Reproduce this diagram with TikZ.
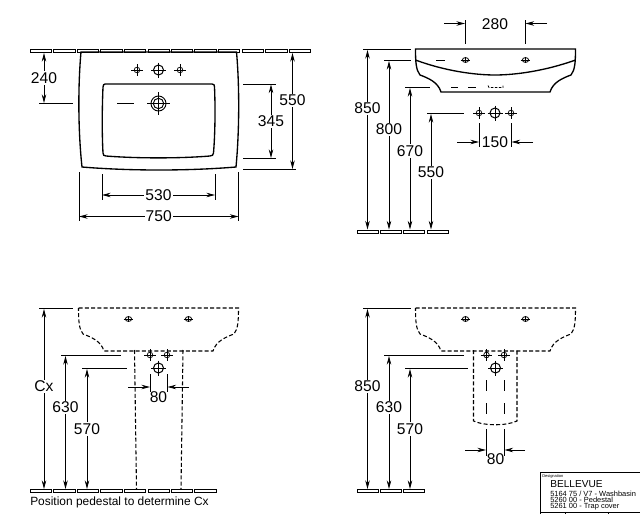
\documentclass[tikz,border=0pt]{standalone}
\usepackage{fontspec}
\setmainfont{Liberation Sans}
\usepackage{tikz}
\usetikzlibrary{arrows.meta}
\tikzset{
  dimline/.style = {{Stealth[length=6.5pt,width=3.4pt]}-{Stealth[length=6.5pt,width=3.4pt]}, line width=0.6pt},% two arrow heads
  dimstop/.style = {-{Stealth[length=6.5pt,width=3.4pt]}, line width=0.6pt},% one arrow head
  extline/.style = {line width=0.6pt},
  outline/.style = {line width=1pt},
  hidden/.style = {line width=0.8pt, dash pattern=on 3pt off 1.7pt},
  tile/.style = {line width=0.6pt, fill=white},
  dimtxt/.style = {fill=white, inner sep=0.8pt, font=\fontsize{11.7}{12}\selectfont},
  tap/.pic = {
    \draw[line width=0.55pt] (0,0) circle [radius=2.8];
    \draw[line width=0.55pt] (-5.8,0) -- (5.8,0) (0,-5.8) -- (0,5.8);
  },
  bigtap/.pic = {
    \draw[line width=0.75pt] (0,0) circle [radius=5];
    \draw[line width=0.55pt] (-7.5,0) -- (7.5,0) (0,-7.5) -- (0,7.5);
  },
  lens/.pic = {
    \draw[line width=0.6pt] (0,0) ellipse [x radius=3.2, y radius=2.4];
    \draw[line width=0.6pt] (-4.8,0) -- (4.8,0) (0,-3.2) -- (0,3.2);
  }
}
\newcommand{\basinfront}[1]{% front view of the basin
    \draw[#1] (415.5,49) -- (575.5,49) .. controls (575.5,62) and (575,70) .. (571,75)
        .. controls (563,78) and (553,82) .. (550,92) -- (441,92)
        .. controls (438,82) and (428,78) .. (420,75)
        .. controls (416,70) and (415.5,62) .. (415.5,49) -- cycle;
}
\begin{document}
\begin{tikzpicture}[x=0.75pt,y=-0.75pt]
    \useasboundingbox (0,0) rectangle (640,514);
    % plan view, wall tiles
    \foreach \tx in {30,53.5,77,100.5,124,148,171,194.5,218,242,265.5,289}
        \draw[tile] (\tx,49) rectangle ++(21.5,3);
    \draw[outline] (81,52) -- (236.5,52) .. controls (239.5,85) and (239.5,130) .. (236,167)
        .. controls (188,171) and (130,171) .. (82,167)
        .. controls (78,130) and (78,85) .. (81,52) -- cycle;
    \draw[outline] (105,84) -- (212,84) .. controls (214,84) and (214.5,85) .. (214.5,87)
        .. controls (215.5,110) and (215,135) .. (213.5,153) .. controls (213.5,155) and (212,156) .. (210,156)
        .. controls (180,158.5) and (137,158.5) .. (106,156) .. controls (104,156) and (103,155) .. (103,153)
        .. controls (102,135) and (102,110) .. (103,87) .. controls (103,85) and (104,84) .. (105,84) -- cycle;
    \pic at (137,70) {tap};
    \pic at (158.5,70) {bigtap};
    \pic at (180,70) {tap};
    \draw[line width=0.7pt] (158.5,103.5) circle [radius=7.5] circle [radius=5.2];
    \draw[extline] (147,103.5) -- (170,103.5) (158.5,92) -- (158.5,115) (117,103.5) -- (134,103.5);
    \draw[extline] (39,103.5) -- (73,103.5) (243,84) -- (276,84) (243,158.5) -- (276,158.5)
        (243,169.5) -- (296,169.5) (102,174) -- (102,200) (215,174) -- (215,200)
        (79,172) -- (79,221) (238.5,172) -- (238.5,221);
    \draw[dimline] (44,53) -- (44,103) node[dimtxt, midway] (lblA) {240};
    \draw[dimline] (292.5,53) -- (292.5,169) node[dimtxt, pos=0.41] (lblB) {550};
    \draw[dimline] (271,84.5) -- (271,158) node[dimtxt, pos=0.5] (lblC) {345};
    \draw[dimline] (102,195) -- (215,195) node[dimtxt, midway] (lblD) {530};
    \draw[dimline] (79,216.5) -- (238.5,216.5) node[dimtxt, midway] (lblE) {750};
    % side view
    \foreach \tx in {357,380,403,427}
        \draw[tile] (\tx,230) rectangle ++(21.5,3);
    \basinfront{outline}
    \draw[outline] (415.5,60) .. controls (445,71) and (475,75) .. (495,75)
        .. controls (515,75) and (545,71) .. (575.5,60);
    \pic at (465.5,60) {lens};
    \pic at (525.5,60) {lens};
    \draw[extline] (436,60) -- (445,60) (451,87.5) -- (458,87.5) (468,87.5) -- (476,87.5);
    \draw[extline, dash pattern=on 2pt off 1pt] (488,85.5) -- (489,87.5) -- (503,87.5) -- (503,85.5);
    \pic at (479,113) {tap};
    \pic at (495,113) {bigtap};
    \pic at (511,113) {tap};
    \draw[extline] (363,49.5) -- (411,49.5) (384,60) -- (411,60) (405,87.5) -- (430,87.5) (427,113) -- (464,113)
        (465.5,20) -- (465.5,44) (525,20) -- (525,44) (479.5,123) -- (479.5,147) (511,123) -- (511,147);
    \draw[dimline] (367.5,50) -- (367.5,229.5) node[dimtxt, pos=0.325] (lblF) {850};
    \draw[dimline] (389,61) -- (389,229.5) node[dimtxt, pos=0.405] (lblG) {800};
    \draw[dimline] (410,88) -- (410,229.5) node[dimtxt, pos=0.445] (lblH) {670};
    \draw[dimline] (431,114) -- (431,229.5) node[dimtxt, pos=0.505] (lblI) {550};
    \draw[dimstop] (444,23.5) -- (465,23.5);
    \draw[dimstop] (547,23.5) -- (525.5,23.5);
    \node[dimtxt] (lblJ) at (495,24) {280};
    \draw[dimstop] (457,142) -- (479,142);
    \draw[dimstop] (533,142) -- (511.5,142);
    \node[dimtxt] (lblK) at (495,142.5) {150};
    % pedestal, left
    \begin{scope}[shift={(-337,259)}]
        \basinfront{hidden}
        \pic at (465.5,60) {lens};
        \pic at (525.5,60) {lens};
    \end{scope}
    \foreach \tx in {30,53.5,77,100.5,124,148,171,194.5}
        \draw[tile] (\tx,489.5) rectangle ++(21.5,3);
    \draw[hidden] (134.5,350) -- (136.5,489) (183,350) -- (181,489);
    \pic at (150,355) {tap};
    \pic at (167,355) {tap};
    \pic at (158.5,368) {bigtap};
    \draw[extline] (39,308) -- (73,308) (61,355.5) -- (121,355.5) (82,368) -- (127,368)
        (150.5,374) -- (150.5,392) (167,374) -- (167,392);
    \draw[dimline] (44,309) -- (44,489) node[dimtxt, pos=0.43] (lblL) {Cx};
    \draw[dimline] (65.5,356) -- (65.5,489) node[dimtxt, pos=0.385] (lblM) {630};
    \draw[dimline] (87,369) -- (87,489) node[dimtxt, pos=0.5] (lblN) {570};
    \draw[dimstop] (128,387) -- (150,387);
    \draw[dimstop] (189,387) -- (167.5,387);
    \node[dimtxt, fill=none] (lblO) at (158.5,397) {80};
    \node[anchor=west, inner sep=0pt, font=\fontsize{8.95}{10}\selectfont] (note) at (30,502.5) {Position pedestal to determine Cx};
    % pedestal, right
    \basinfront{hidden, yshift=-194.25pt}
    \pic at (465.5,319) {lens};
    \pic at (525.5,319) {lens};
    \foreach \tx in {357,380,403}
        \draw[tile] (\tx,489.5) rectangle ++(21.5,3);
    \draw[hidden] (473.5,350) -- (473.5,421) .. controls (485,426) and (506,426) .. (517,421) -- (517,350);
    \pic at (486.5,355) {tap};
    \pic at (504,355) {tap};
    \pic at (495.5,368) {bigtap};
    \draw[extline] (486.5,380) -- (486.5,391) (504,380) -- (504,391) (486.5,403) -- (486.5,414) (504,403) -- (504,414);
    \draw[extline] (363,308) -- (411,308) (384,355.5) -- (464,355.5) (405,368) -- (468,368)
        (486.5,429) -- (486.5,456) (504,429) -- (504,456);
    \draw[dimline] (367.5,309) -- (367.5,489) node[dimtxt, pos=0.43] (lblP) {850};
    \draw[dimline] (389,356) -- (389,489) node[dimtxt, pos=0.385] (lblQ) {630};
    \draw[dimline] (410,369) -- (410,489) node[dimtxt, pos=0.5] (lblR) {570};
    \draw[dimstop] (465,450) -- (486,450);
    \draw[dimstop] (525,450) -- (504.5,450);
    \node[dimtxt, fill=none] (lblS) at (495.5,459) {80};
    % title block
    \draw[line width=0.7pt] (640,472) -- (540,472) -- (540,514) (540,512.5) -- (640,512.5)
        (565,512.5) -- (565,514) (608,512.5) -- (608,514);
    \node[anchor=west, inner sep=0pt, font=\fontsize{3}{4}\selectfont] (design) at (542,476) {Designation};
    \node[anchor=west, inner sep=0pt, font=\fontsize{7.6}{9}\selectfont] (brand) at (550,484.5) {BELLEVUE};
    \node[anchor=west, inner sep=0pt, font=\fontsize{5.6}{6}\selectfont] (partA) at (550,493.5) {5164 75 / V7 - Washbasin};
    \node[anchor=west, inner sep=0pt, font=\fontsize{5.6}{6}\selectfont] (partB) at (550,500) {5260 00 - Pedestal};
    \node[anchor=west, inner sep=0pt, font=\fontsize{5.6}{6}\selectfont] (partC) at (550,506.5) {5261 00 - Trap cover};
\end{tikzpicture}
\end{document}
